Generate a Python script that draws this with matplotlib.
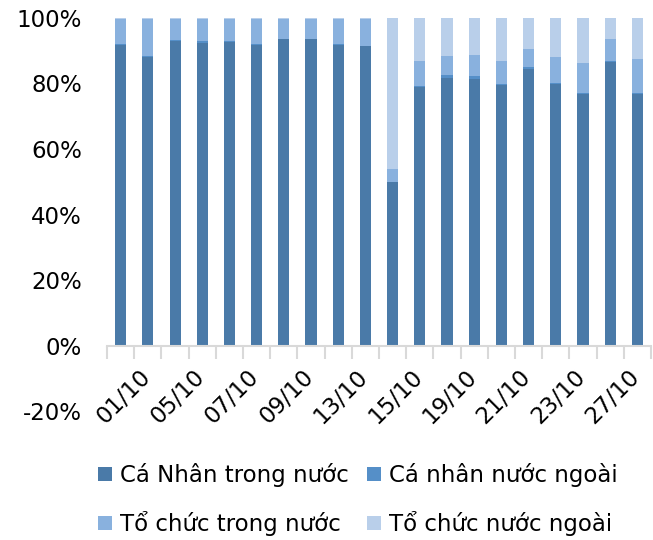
import matplotlib.pyplot as plt
import matplotlib.transforms as mtransforms
import numpy as np

# Cơ cấu giao dịch theo nhà đầu tư (%)
dates = ['30/09', '01/10', '02/10', '05/10', '06/10', '07/10', '08/10', '09/10',
         '12/10', '13/10', '14/10', '15/10', '16/10', '19/10', '20/10', '21/10',
         '22/10', '23/10', '26/10', '27/10']
cn_trong = [91.7, 88.0, 93.0, 92.3, 92.6, 91.7, 93.4, 93.4, 91.6, 91.3,
            50.0, 78.9, 81.8, 81.5, 79.4, 84.5, 79.8, 76.9, 86.4, 76.9]
cn_ngoai = [0.4, 0.3, 0.3, 0.7, 0.4, 0.3, 0.2, 0.2, 0.4, 0.2,
            0.1, 0.4, 0.7, 0.7, 0.4, 0.5, 0.4, 0.3, 0.5, 0.3]
tc_trong = [7.6, 11.4, 6.4, 6.7, 6.7, 7.7, 6.1, 6.1, 7.7, 8.2,
            3.8, 7.4, 6.0, 6.6, 6.9, 5.6, 7.9, 8.9, 6.7, 10.3]
tc_ngoai = [0.3, 0.3, 0.3, 0.3, 0.3, 0.3, 0.3, 0.3, 0.3, 0.3,
            46.1, 13.3, 11.5, 11.2, 13.3, 9.4, 11.9, 13.9, 6.4, 12.5]

series = [
    ('Cá Nhân trong nước', cn_trong, '#4a7aa8'),
    ('Cá nhân nước ngoài', cn_ngoai, '#558fc8'),
    ('Tổ chức trong nước', tc_trong, '#89b1de'),
    ('Tổ chức nước ngoài', tc_ngoai, '#b9cfea'),
]

plt.rcParams['font.family'] = 'DejaVu Sans'
fs = 16.5
fig = plt.figure(figsize=(6.53, 5.40), dpi=100)
ax = fig.add_axes([0.164, 0.238, 0.833, 0.729])

x = np.arange(len(dates))
bottom = np.zeros(len(dates))
bars = []
for name, vals, color in series:
    b = ax.bar(x, vals, 0.41, bottom=bottom, color=color, label=name)
    bars.append(b)
    bottom += np.array(vals)

ax.set_xlim(-0.5, len(dates) - 0.5)
ax.set_ylim(-20, 100)
ax.set_yticks(range(-20, 101, 20))
ax.set_yticklabels([f'{v}%' for v in range(-20, 101, 20)], fontsize=fs)
ax.tick_params(axis='y', length=0, pad=18)

for s in ['top', 'right', 'left']:
    ax.spines[s].set_visible(False)
ax.spines['bottom'].set_position(('data', 0))
ax.spines['bottom'].set_color('#d9d9d9')
ax.spines['bottom'].set_linewidth(1.5)

# nhãn ngày cách một cột
ax.set_xticks(x[1::2])
ax.set_xticklabels(dates[1::2], rotation=45, ha='right', fontsize=fs)
ax.tick_params(axis='x', which='major', length=0, pad=14)
shift = mtransforms.ScaledTranslation(7 / 100, 0, fig.dpi_scale_trans)
for lbl in ax.get_xticklabels():
    lbl.set_transform(lbl.get_transform() + shift)
ax.set_xticks(np.arange(-0.5, len(dates), 1), minor=True)
ax.tick_params(axis='x', which='minor', length=9, width=1.5, color='#d9d9d9')

handles = [bars[0], bars[2], bars[1], bars[3]]
labels = [series[0][0], series[2][0], series[1][0], series[3][0]]
fig.legend(handles, labels, ncol=2, loc='upper left', bbox_to_anchor=(98 / 653, 1 - 463 / 540),
           frameon=False, fontsize=fs, handlelength=0.6, handleheight=0.6,
           handletextpad=0.35, columnspacing=0.8, labelspacing=1.05, borderpad=0,
           borderaxespad=0)

fig.savefig('out.png', dpi=100)
